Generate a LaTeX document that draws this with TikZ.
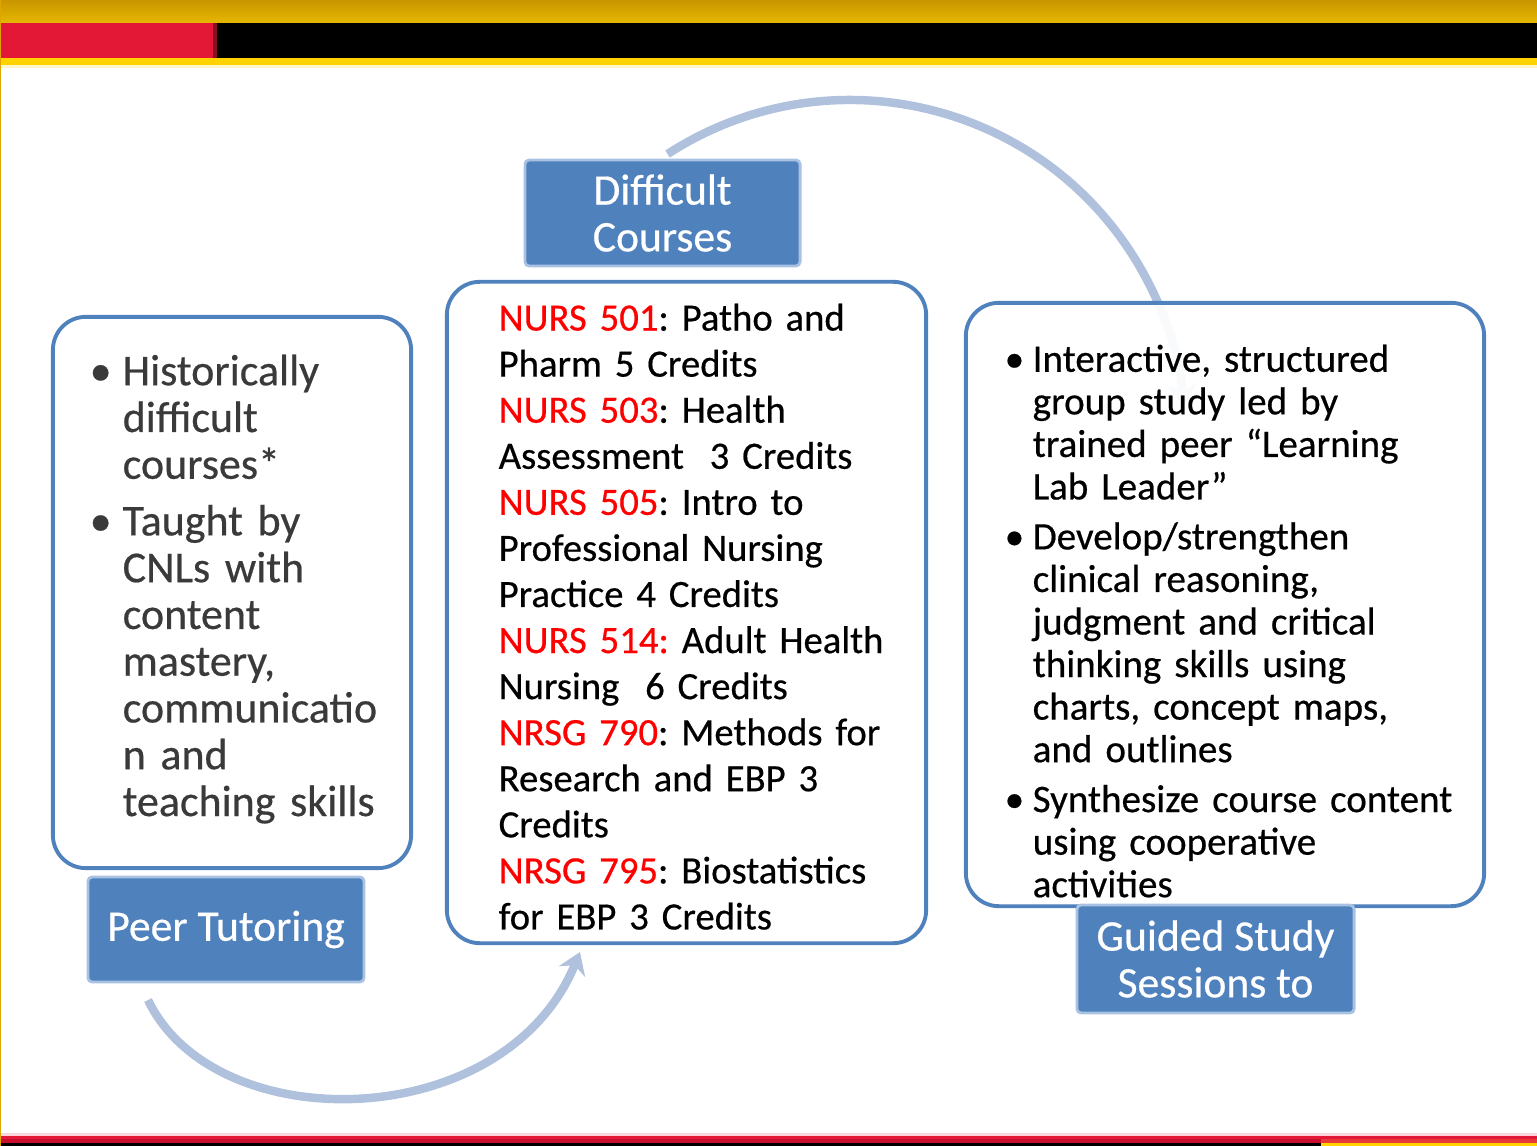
\documentclass[tikz,border=0pt]{standalone}
\usepackage{fontspec}
\setmainfont{Carlito}[UprightFeatures={FakeBold=0.5}]
\usetikzlibrary{arrows.meta}

\definecolor{boxblue}{HTML}{4F81BD}
\definecolor{edgeblue}{HTML}{A9C1E2}
\definecolor{arcblue}{HTML}{B0C1DE}
\definecolor{barred}{HTML}{E31837}
\definecolor{darkred}{HTML}{C8102E}
\definecolor{lightred}{HTML}{E8383A}
\definecolor{bargold}{HTML}{DFA600}
\definecolor{baryellow}{HTML}{FFD200}
\definecolor{leftgray}{HTML}{3A3A3A}

% bullet hung in the left margin
\newcommand{\itm}[1]{\leftskip=#1\noindent\llap{\makebox[#1][l]{\textbullet}}}

\begin{document}
\begin{tikzpicture}[x=0.01cm,y=-0.01cm]
\tikzstyle{every node}+=[inner sep=0pt]
\tikzstyle{lbl}=[fill=boxblue, draw=edgeblue, line width=0.8pt, rounded corners=1.2pt, text=white, align=center, font=\fontsize{12.4}{13.3}\selectfont]
\tikzstyle{cbox}=[draw=boxblue, line width=1.1pt, fill=white, rounded corners=0.33cm]
\tikzstyle{arc}=[arcblue, line width=2.4pt]
\useasboundingbox (0,0) rectangle (1537,1146);
\fill[white] (0,0) rectangle (1537,1146);

% top band
\shade[top color=bargold!90!black, bottom color=bargold!80!yellow] (0,0) rectangle (1537,23);
\fill[barred] (0,23) rectangle (215,58);
\fill[barred!60!black] (213,23) rectangle (217,58);
\fill[black] (217,23) rectangle (1537,58);
\fill[baryellow] (0,58) rectangle (1537,65);
\fill[baryellow!20] (0,65) rectangle (1537,68);
% bottom band
\fill[barred!18] (0,1133) rectangle (1537,1136);
\fill[barred] (0,1136) rectangle (1537,1139);
\fill[darkred] (0,1139) rectangle (1321,1143);
\fill[lightred] (1321,1139) rectangle (1537,1143);
\fill[black] (0,1143) rectangle (1321,1146);
\fill[baryellow] (1321,1143) rectangle (1537,1146);
\fill[bargold] (0,0) rectangle (1.5,1146);

% cycle arrows
\coordinate (botS) at (148,1000);
\coordinate (botE) at (580,952);
\draw[arc, -{Stealth[length=6pt,width=8pt]}] (botS) .. controls (215,1140) and (505,1135) .. (botE);
\coordinate (topC) at (850,435);
\draw[arc, -{Stealth[length=6pt,width=8pt]}] (topC) ++(-123:335) arc (-123:-5:335);

% content boxes
\node[cbox, minimum width=3.58cm, minimum height=5.51cm] (tutorbox) at (232,592.5) {};
\node[cbox, minimum width=4.79cm, minimum height=6.61cm] (coursebox) at (686.5,612.5) {};
\node[cbox, fill opacity=0.93, minimum width=5.18cm, minimum height=6.03cm] (studybox) at (1225,604.5) {};

\node[anchor=north west, text width=3.3cm, text=leftgray, font=\fontsize{12.5}{13.3}\selectfont\frenchspacing] (tutortext) at (89,354) {%
\itm{0.33cm}Historically\\difficult\\courses*
\par\vskip2.8pt\itm{0.33cm}Taught by\\CNLs with\\content\\mastery,\\communicatio\\n and\\teaching skills\par};

\node[anchor=north west, text width=4.3cm, font=\fontsize{11}{13.1}\selectfont\frenchspacing] (coursetext) at (498,303) {\raggedright
\textcolor{red}{NURS 501}: Patho and\\
Pharm 5 Credits\\
\textcolor{red}{NURS 503}: Health\\
Assessment~ 3 Credits\\
\textcolor{red}{NURS 505}: Intro to\\
Professional Nursing\\
Practice 4 Credits\\
\textcolor{red}{NURS 514:} Adult Health\\
Nursing~ 6 Credits\\
\textcolor{red}{NRSG 790}: Methods for\\
Research and EBP 3\\
Credits\\
\textcolor{red}{NRSG 795}: Biostatistics\\
for EBP 3 Credits};

\node[anchor=north west, text width=4.9cm, font=\fontsize{11.1}{12.1}\selectfont\frenchspacing] (studytext) at (1004,344) {%
\itm{0.28cm}Interactive, structured\\group study led by\\trained peer “Learning\\Lab Leader”
\par\vskip2.1pt\itm{0.28cm}Develop/strengthen\\clinical reasoning,\\judgment and critical\\thinking skills using\\charts, concept maps,\\and outlines
\par\vskip2.1pt\itm{0.28cm}Synthesize course content\\using cooperative\\activities\par};

% labels
\node[lbl, minimum width=2.75cm, minimum height=1.06cm] (courses) at (662.5,213) {Difficult\\Courses};
\node[lbl, minimum width=2.76cm, minimum height=1.05cm] (tutoring) at (226,929.5) {Peer Tutoring};
\node[lbl, minimum width=2.77cm, minimum height=1.08cm] (guided) at (1215.5,959) {Guided Study\\Sessions to};
\end{tikzpicture}
\end{document}
